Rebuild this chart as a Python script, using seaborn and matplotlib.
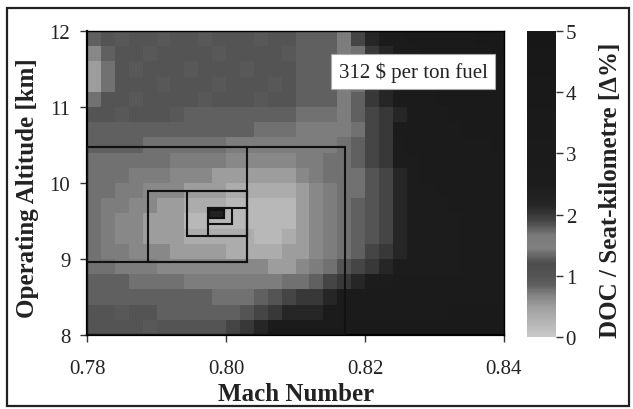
import matplotlib
matplotlib.use("Agg")
import matplotlib.pyplot as plt
import numpy as np
import pandas as pd
import seaborn as sns
from matplotlib.colors import LinearSegmentedColormap
from matplotlib.patches import Rectangle

sns.set_theme(style="white")
plt.rcParams["font.family"] = ["Liberation Serif", "DejaVu Serif"]

# ---------------- data ----------------
mach = [0.781, 0.783, 0.785, 0.787, 0.789, 0.791, 0.793, 0.795, 0.797, 0.799,
        0.801, 0.803, 0.805, 0.807, 0.809, 0.811, 0.813, 0.815, 0.817, 0.819,
        0.821, 0.823, 0.825, 0.827, 0.829, 0.831, 0.833, 0.835, 0.837, 0.839]
altitude = [11.9, 11.7, 11.5, 11.3, 11.1, 10.9, 10.7, 10.5, 10.3, 10.1,
            9.9, 9.7, 9.5, 9.3, 9.1, 8.9, 8.7, 8.5, 8.3, 8.1]

# DOC / seat-km increase [%] per altitude row
doc_119 = [0.85, 1.0, 0.95, 1.0, 1.0, 0.95, 1.0, 1.0, 0.95, 1.0, 1.0, 1.0, 0.95, 1.0, 1.0, 0.85, 0.85, 0.85, 0.72, 1.9, 2.15, 3.0, 3.2, 3.4, 3.5, 3.6, 3.6, 3.7, 3.8, 3.8]
doc_117 = [0.65, 0.85, 1.0, 1.0, 0.95, 1.0, 1.0, 1.0, 1.0, 0.95, 1.0, 1.0, 1.0, 1.0, 0.95, 0.85, 0.85, 0.85, 0.72, 0.78, 2.0, 2.15, 3.0, 3.2, 3.3, 3.5, 3.6, 3.6, 3.7, 3.8]
doc_115 = [0.5, 0.78, 1.0, 0.95, 1.0, 1.0, 1.0, 0.95, 1.0, 1.0, 1.0, 0.95, 1.0, 1.0, 1.0, 0.85, 0.85, 0.85, 0.72, 0.78, 2.0, 2.15, 3.0, 3.1, 3.3, 3.4, 3.5, 3.6, 3.6, 3.7]
doc_113 = [0.5, 0.78, 1.0, 1.0, 1.0, 0.95, 1.0, 1.0, 1.0, 0.95, 1.0, 1.0, 1.0, 0.95, 1.0, 0.85, 0.85, 0.85, 0.72, 0.78, 2.0, 2.15, 2.9, 3.1, 3.2, 3.3, 3.4, 3.5, 3.6, 3.6]
doc_111 = [0.78, 1.0, 1.0, 0.95, 1.0, 1.0, 1.0, 1.0, 0.95, 1.0, 1.0, 1.0, 0.95, 1.0, 1.0, 0.85, 0.85, 0.85, 0.72, 0.85, 2.0, 2.15, 2.9, 3.0, 3.2, 3.3, 3.4, 3.4, 3.5, 3.6]
doc_109 = [1.0, 1.0, 0.95, 1.0, 1.0, 1.0, 0.95, 0.85, 0.85, 0.85, 0.85, 0.85, 0.85, 0.85, 0.85, 0.78, 0.78, 0.78, 0.72, 0.85, 1.9, 2.0, 2.15, 2.9, 3.1, 3.2, 3.3, 3.3, 3.4, 3.5]
doc_107 = [0.85, 0.85, 0.85, 0.85, 0.85, 0.85, 0.85, 0.85, 0.85, 0.85, 0.85, 0.85, 0.78, 0.78, 0.78, 0.72, 0.72, 0.72, 0.72, 0.78, 1.9, 2.0, 2.8, 2.9, 3.0, 3.1, 3.2, 3.3, 3.3, 3.4]
doc_105 = [0.85, 0.85, 0.85, 0.85, 0.78, 0.78, 0.78, 0.78, 0.78, 0.78, 0.72, 0.72, 0.72, 0.72, 0.72, 0.72, 0.72, 0.72, 0.78, 0.85, 1.9, 2.0, 2.7, 2.8, 3.0, 3.0, 3.1, 3.2, 3.2, 3.3]
doc_103 = [0.78, 0.78, 0.78, 0.78, 0.78, 0.78, 0.72, 0.72, 0.72, 0.72, 0.65, 0.65, 0.65, 0.65, 0.65, 0.72, 0.72, 0.78, 0.78, 0.85, 1.9, 2.0, 2.6, 2.7, 2.9, 3.0, 3.0, 3.1, 3.2, 3.2]
doc_101 = [0.78, 0.78, 0.78, 0.72, 0.72, 0.72, 0.65, 0.65, 0.65, 0.5, 0.5, 0.5, 0.5, 0.5, 0.5, 0.65, 0.72, 0.78, 0.78, 0.78, 1.0, 1.9, 2.15, 2.6, 2.8, 2.9, 3.0, 3.0, 3.1, 3.2]
doc_99 = [0.78, 0.78, 0.72, 0.72, 0.65, 0.65, 0.65, 0.5, 0.5, 0.5, 0.35, 0.35, 0.35, 0.35, 0.35, 0.5, 0.65, 0.72, 0.78, 0.78, 1.0, 1.9, 2.15, 2.5, 2.7, 2.8, 2.9, 3.0, 3.0, 3.1]
doc_97 = [0.78, 0.72, 0.72, 0.65, 0.65, 0.5, 0.5, 0.35, 0.35, 0.35, 0.2, 0.2, 0.2, 0.2, 0.2, 0.5, 0.65, 0.72, 0.78, 0.85, 1.0, 1.9, 2.15, 2.5, 2.6, 2.6, 2.8, 2.9, 3.0, 3.0]
doc_95 = [0.78, 0.72, 0.65, 0.65, 0.5, 0.5, 0.5, 0.2, 0.2, 0.2, 0.2, 0.2, 0.2, 0.2, 0.2, 0.5, 0.65, 0.72, 0.78, 0.85, 1.0, 1.9, 2.15, 2.5, 2.5, 2.6, 2.7, 2.8, 2.9, 3.0]
doc_93 = [0.78, 0.72, 0.65, 0.65, 0.5, 0.5, 0.5, 0.35, 0.35, 0.35, 0.35, 0.35, 0.2, 0.2, 0.35, 0.5, 0.65, 0.72, 0.78, 0.85, 1.0, 1.9, 2.15, 2.5, 2.5, 2.5, 2.6, 2.8, 2.9, 3.0]
doc_91 = [0.78, 0.72, 0.72, 0.65, 0.65, 0.65, 0.5, 0.5, 0.5, 0.5, 0.35, 0.35, 0.35, 0.35, 0.5, 0.5, 0.65, 0.72, 0.78, 0.85, 1.9, 2.0, 2.15, 2.5, 2.5, 2.6, 2.6, 2.8, 2.9, 3.0]
doc_89 = [0.78, 0.78, 0.72, 0.72, 0.72, 0.65, 0.65, 0.65, 0.65, 0.65, 0.65, 0.65, 0.65, 0.5, 0.5, 0.65, 0.72, 0.78, 1.0, 1.9, 2.0, 2.15, 2.6, 2.6, 2.6, 2.7, 2.7, 2.8, 2.9, 3.0]
doc_87 = [0.85, 0.85, 0.85, 0.78, 0.78, 0.78, 0.78, 0.72, 0.72, 0.72, 0.72, 0.72, 0.72, 0.72, 0.78, 0.78, 0.85, 1.9, 2.0, 2.15, 2.7, 2.7, 2.8, 2.8, 2.8, 2.9, 2.9, 3.0, 3.0, 3.1]
doc_85 = [0.85, 0.85, 0.85, 0.85, 0.85, 0.85, 0.85, 0.85, 0.85, 0.78, 0.78, 0.78, 0.85, 1.0, 1.9, 2.0, 2.0, 2.15, 2.8, 2.8, 2.9, 2.9, 3.0, 3.0, 3.0, 3.1, 3.1, 3.1, 3.2, 3.2]
doc_83 = [1.0, 1.0, 0.95, 1.0, 1.0, 0.85, 0.85, 0.85, 0.85, 0.85, 0.85, 1.0, 1.9, 2.0, 2.15, 2.15, 2.15, 2.9, 3.0, 3.0, 3.0, 3.1, 3.1, 3.2, 3.2, 3.2, 3.3, 3.3, 3.3, 3.4]
doc_81 = [1.0, 1.0, 1.0, 1.0, 0.95, 1.0, 1.0, 1.0, 1.0, 1.0, 1.9, 2.0, 2.15, 3.0, 3.0, 3.1, 3.1, 3.2, 3.2, 3.3, 3.3, 3.3, 3.4, 3.4, 3.4, 3.5, 3.5, 3.5, 3.6, 3.6]

doc_rows = [doc_119, doc_117, doc_115, doc_113, doc_111, doc_109, doc_107, doc_105,
            doc_103, doc_101, doc_99, doc_97, doc_95, doc_93, doc_91, doc_89,
            doc_87, doc_85, doc_83, doc_81]

# nested search boxes (Mach low/high, altitude low/high)
box_mach_lo = [0.7800, 0.7800, 0.7888, 0.7944, 0.7974, 0.7974, 0.7976]
box_mach_hi = [0.8171, 0.8030, 0.8030, 0.8030, 0.8030, 0.8009, 0.7997]
box_alt_lo = [8.00, 8.96, 8.96, 9.30, 9.30, 9.46, 9.54]
box_alt_hi = [10.47, 10.47, 9.89, 9.89, 9.67, 9.67, 9.64]

mach_ticks = [0.78, 0.80, 0.82, 0.84]
alt_ticks = [8, 9, 10, 11, 12]
cbar_ticks = [0, 1, 2, 3, 4, 5]

# banded grey scale as in the printed colour bar
cmap_levels = [0.0, 0.2, 0.35, 0.5, 0.65, 0.72, 0.78, 0.85, 1.0, 1.2, 1.45, 1.65, 1.9, 2.0, 2.15, 2.5, 5.0]
cmap_greys = [0.79, 0.72, 0.67, 0.61, 0.53, 0.48, 0.43, 0.37, 0.33, 0.30, 0.50, 0.48, 0.27, 0.22, 0.15, 0.11, 0.09]

# ---------------- figure ----------------
W, H = 633, 410
fig = plt.figure(figsize=(W / 100, H / 100), dpi=100)

def fx(px):
    return px / W

def fy(py):
    return (H - py) / H

ax_l, ax_r, ax_t, ax_b = 87, 504, 32, 336
pos = [fx(ax_l), fy(ax_b), fx(ax_r) - fx(ax_l), fy(ax_t) - fy(ax_b)]
ax = fig.add_axes(pos)
cax = fig.add_axes([fx(527), fy(338), fx(556) - fx(527), fy(32) - fy(338)])

cmap = LinearSegmentedColormap.from_list(
    "doc_grey", [(v / 5.0, (g, g, g)) for v, g in zip(cmap_levels, cmap_greys)])

df = pd.DataFrame(doc_rows, index=altitude, columns=mach)
sns.heatmap(df, ax=ax, cbar_ax=cax, cmap=cmap, vmin=0, vmax=5,
            xticklabels=False, yticklabels=False, linewidths=0, rasterized=True)
ax.set_xlabel("")
ax.set_ylabel("")

# overlay axis in data coordinates
ax2 = fig.add_axes(pos, facecolor="none")
ax2.set_xlim(0.78, 0.84)
ax2.set_ylim(8, 12)
for s in ax2.spines.values():
    s.set_visible(True)
    s.set_color("black")
    s.set_linewidth(1.0)
ax2.spines["left"].set_linewidth(1.6)
ax2.spines["bottom"].set_linewidth(1.6)

for lo, hi, alo, ahi in zip(box_mach_lo, box_mach_hi, box_alt_lo, box_alt_hi):
    ax2.add_patch(Rectangle((lo, alo), hi - lo, ahi - alo, fill=False,
                            edgecolor="#111111", linewidth=1.5, zorder=3))
# innermost box shaded
ax2.add_patch(Rectangle((box_mach_lo[-1], box_alt_lo[-1]),
                        box_mach_hi[-1] - box_mach_lo[-1], box_alt_hi[-1] - box_alt_lo[-1],
                        facecolor="#222222", edgecolor="#111111", linewidth=1.5, zorder=3))

ax2.set_xticks(mach_ticks)
ax2.set_xticklabels([f"{m:.2f}" for m in mach_ticks])
ax2.set_yticks(alt_ticks)
ax2.set_yticklabels([str(a) for a in alt_ticks])
ax2.tick_params(axis="both", direction="out", length=5, width=1.0, color="#333333",
                labelsize=15, labelcolor="#222222", bottom=True, left=True)
ax2.tick_params(axis="x", pad=12)
ax2.tick_params(axis="y", pad=7)

ax2.text(0.8269, 11.47, r"312 \$ per ton fuel", ha="center", va="center",
         fontsize=15, color="#222222", zorder=5,
         bbox=dict(boxstyle="square,pad=0.35", facecolor="white",
                   edgecolor="#aaaaaa", linewidth=0.8))

# colour bar styling
cax.set_yticks(cbar_ticks)
cax.set_yticklabels([str(t) for t in cbar_ticks])
cax.tick_params(axis="y", right=True, direction="out", length=5, width=1.0,
                color="#333333", labelsize=15, labelcolor="#222222", pad=2)
for s in cax.spines.values():
    s.set_visible(False)

# axis titles
fig.text(fx(296), fy(395), "Mach Number", ha="center", va="center",
         fontsize=18, fontweight="bold", color="#222222")
fig.text(fx(28), fy(188), "Operating Altitude [km]", ha="center", va="center",
         rotation=90, fontsize=18, fontweight="bold", color="#222222")
fig.text(fx(611), fy(190), "DOC / Seat-kilometre [Δ%]", ha="center", va="center",
         rotation=90, fontsize=18, fontweight="bold", color="#222222")

# outer frame
fig.patches.append(Rectangle((fx(7), fy(407)), fx(629) - fx(7), fy(9) - fy(407),
                             transform=fig.transFigure, fill=False,
                             edgecolor="#222222", linewidth=1.6))

fig.savefig("out.png", dpi=100, facecolor="white")
